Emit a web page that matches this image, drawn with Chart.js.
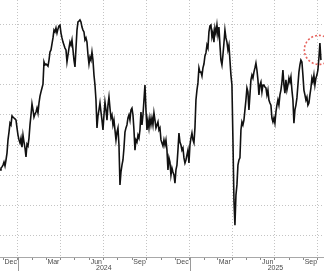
<!DOCTYPE html>
<html>
<head>
<meta charset="utf-8">
<script src="https://cdn.jsdelivr.net/npm/chart.js@4.4.1/dist/chart.umd.min.js"></script>
<style>
  html, body { margin: 0; padding: 0; background: #fff; }
  #wrap { width: 324px; height: 271px; }
</style>
</head>
<body>
<div id="wrap"><canvas id="c"></canvas></div>
<script>
// One reading every ~2.13 days, the first one on 23 Nov 2023.
// Days are counted from 1 Jan 2024.
var START_DAY = -38.3;
var STEP_DAYS = 2.13;

var level = [
  31.7, 32.3, 32.7, 33.3, 34.3, 33.0, 35.0, 37.3, 41.7, 44.3,
  47.3, 46.7, 49.7, 49.3, 49.0, 48.7, 48.3, 45.7, 43.3, 41.7,
  40.7, 42.3, 39.3, 43.3, 41.0, 39.0, 36.0, 40.3, 39.7, 42.3,
  46.7, 50.0, 53.7, 51.7, 49.3, 50.3, 51.0, 52.3, 50.7, 54.0,
  56.3, 57.7, 59.0, 60.3, 67.7, 66.7, 67.0, 66.7, 66.3, 68.3,
  71.0, 71.7, 73.7, 75.7, 78.3, 77.7, 79.0, 77.3, 78.7, 79.7,
  80.0, 77.3, 75.7, 74.3, 73.3, 72.3, 71.7, 67.7, 70.0, 72.3,
  74.3, 73.3, 75.0, 71.7, 68.3, 66.0, 72.3, 78.3, 81.0, 81.3,
  81.7, 81.0, 79.3, 78.3, 77.7, 75.0, 75.7, 74.3, 70.0, 67.0,
  69.3, 68.3, 71.0, 68.3, 63.3, 60.0, 55.0, 45.7, 49.7, 51.7,
  54.0, 51.0, 48.3, 45.0, 50.0, 54.3, 51.7, 48.3, 53.3, 56.0,
  52.3, 49.0, 50.0, 46.7, 48.3, 45.0, 41.7, 44.3, 45.7, 40.0,
  26.7, 31.0, 33.3, 35.0, 39.0, 44.3, 45.7, 46.7, 49.0, 50.0,
  48.3, 51.7, 52.3, 50.0, 45.0, 38.3, 41.7, 41.0, 43.3, 42.3,
  45.0, 51.0, 46.7, 50.0, 55.0, 60.0, 51.7, 45.0, 48.3, 45.7,
  49.0, 46.7, 49.0, 46.7, 50.7, 48.3, 45.7, 46.7, 47.7, 45.0,
  45.7, 41.7, 40.7, 39.7, 41.7, 40.0, 41.7, 38.3, 31.7, 35.7,
  34.3, 30.0, 32.3, 31.0, 30.0, 27.3, 31.7, 33.3, 38.3, 44.0,
  41.0, 40.0, 38.3, 39.0, 35.7, 34.0, 35.0, 36.7, 38.3, 34.0,
  40.0, 42.3, 44.0, 41.7, 40.7, 45.7, 55.0, 58.3, 60.7, 65.7,
  64.3, 64.3, 63.0, 65.7, 67.0, 69.7, 70.7, 73.3, 72.3, 77.7,
  79.7, 80.0, 76.0, 77.7, 74.3, 79.0, 77.3, 80.0, 76.7, 79.3,
  73.3, 68.3, 66.7, 70.0, 74.0, 78.3, 75.7, 74.3, 71.7, 73.3,
  68.3, 63.3, 60.0, 41.7, 21.7, 13.3, 23.3, 26.7, 33.3, 35.0,
  35.7, 45.0, 47.7, 46.7, 48.3, 51.7, 55.0, 59.0, 57.7, 51.7,
  56.7, 61.7, 63.3, 62.3, 64.3, 65.7, 67.3, 65.0, 61.7, 56.7,
  60.0, 61.0, 57.7, 60.0, 60.0, 59.3, 59.0, 56.7, 58.3, 55.0,
  54.0, 53.3, 49.0, 47.7, 49.0, 47.3, 51.0, 53.3, 55.0, 53.3,
  56.7, 58.3, 61.0, 65.0, 60.0, 57.3, 61.7, 58.3, 60.0, 62.3,
  61.0, 62.7, 58.3, 55.0, 47.3, 51.7, 53.3, 55.7, 60.0, 64.3,
  66.7, 68.3, 67.7, 63.3, 58.3, 56.7, 55.0, 56.0, 53.3, 54.0,
  56.7, 59.0, 62.3, 61.0, 63.3, 60.0, 62.3, 63.3, 65.0, 69.0,
  74.0, 68.3
];

var monthLabels = ['Dec', 'Mar', 'Jun', 'Sep', 'Dec', 'Mar', 'Jun', 'Sep'];
var labelMonths = [[2023, 11], [2024, 2], [2024, 5], [2024, 8], [2024, 11], [2025, 2], [2025, 5], [2025, 8]];
var yearLabels = ['2024', '2025'];
var yGrid = [10, 20, 30, 40, 50, 60, 70, 80];
var highlight = { day: 641, value: 71.7 };

var X_MIN = -38.3, X_MAX = 652;
var Y_MIN = 2.667, Y_MAX = 88.333;

function dayOf(y, m, d) {
  return (Date.UTC(y, m, d) - Date.UTC(2024, 0, 1)) / 864e5;
}

var points = level.map(function (v, i) { return { x: START_DAY + i * STEP_DAYS, y: v }; });

// month starts inside the visible window (tick marks), quarters get a grid line
var monthStarts = [];
for (var yy = 2023; yy <= 2025; yy++) {
  for (var mm = 0; mm < 12; mm++) {
    var d = dayOf(yy, mm, 1);
    if (d > X_MIN && d < X_MAX) monthStarts.push({ value: d, month: mm });
  }
}

var axisText = {
  id: 'axisText',
  afterDraw: function (chart) {
    var ctx = chart.ctx, xs = chart.scales.x, area = chart.chartArea;
    ctx.save();
    ctx.fillStyle = '#4a4a4a';
    ctx.font = '7px "Liberation Sans", sans-serif';
    ctx.textAlign = 'center';
    ctx.textBaseline = 'middle';
    labelMonths.forEach(function (ym, i) {
      var mid = (dayOf(ym[0], ym[1], 1) + dayOf(ym[0], ym[1] + 1, 1)) / 2;
      ctx.fillText(monthLabels[i], xs.getPixelForValue(mid), area.bottom + 5);
    });
    yearLabels.forEach(function (y) {
      var yr = +y;
      var mid = (dayOf(yr, 0, 1) + dayOf(yr + 1, 0, 1)) / 2;
      ctx.fillText(y, xs.getPixelForValue(mid), area.bottom + 11.5);
    });
    // year separators
    ctx.strokeStyle = '#9a9a9a';
    ctx.lineWidth = 1;
    yearLabels.forEach(function (y) {
      var px = Math.round(xs.getPixelForValue(dayOf(+y, 0, 1))) + 0.5;
      ctx.beginPath();
      ctx.moveTo(px, area.bottom);
      ctx.lineTo(px, chart.height);
      ctx.stroke();
    });
    ctx.restore();
  },
  afterDatasetsDraw: function (chart) {
    var ctx = chart.ctx;
    var cx = chart.scales.x.getPixelForValue(highlight.day);
    var cy = chart.scales.y.getPixelForValue(highlight.value);
    ctx.save();
    ctx.strokeStyle = 'rgba(226, 70, 64, 0.85)';
    ctx.lineWidth = 1.6;
    ctx.setLineDash([2, 2]);
    ctx.beginPath();
    ctx.arc(cx, cy, 14.5, 0, Math.PI * 2);
    ctx.stroke();
    ctx.restore();
  }
};

new Chart(document.getElementById('c'), {
  type: 'line',
  data: {
    datasets: [{
      data: points,
      borderColor: '#111111',
      borderWidth: 1.6,
      pointRadius: 0,
      tension: 0,
      fill: false
    }]
  },
  options: {
    responsive: true, maintainAspectRatio: false,
    animation: false,
    layout: { padding: { left: 0, right: 0, top: 0, bottom: 11 } },
    plugins: { legend: { display: false }, tooltip: { enabled: false } },
    scales: {
      x: {
        type: 'linear', min: X_MIN, max: X_MAX,
        afterBuildTicks: function (s) { s.ticks = monthStarts.map(function (m) { return { value: m.value }; }); },
        ticks: { display: false },
        grid: {
          color: function (c) {
            var t = monthStarts[c.index];
            return t && t.month % 3 === 0 ? '#c4c4c4' : 'rgba(0,0,0,0)';
          },
          tickColor: '#8a8a8a', tickLength: 3, tickBorderDash: []
        },
        border: { display: true, color: '#a8a8a8', dash: [1, 2] }
      },
      y: {
        min: Y_MIN, max: Y_MAX,
        afterBuildTicks: function (s) { s.ticks = yGrid.map(function (v) { return { value: v }; }); },
        ticks: { display: false },
        grid: { color: '#c4c4c4', drawTicks: false },
        border: { display: false, dash: [1, 2] }
      }
    }
  },
  plugins: [axisText]
});
</script>
</body>
</html>
